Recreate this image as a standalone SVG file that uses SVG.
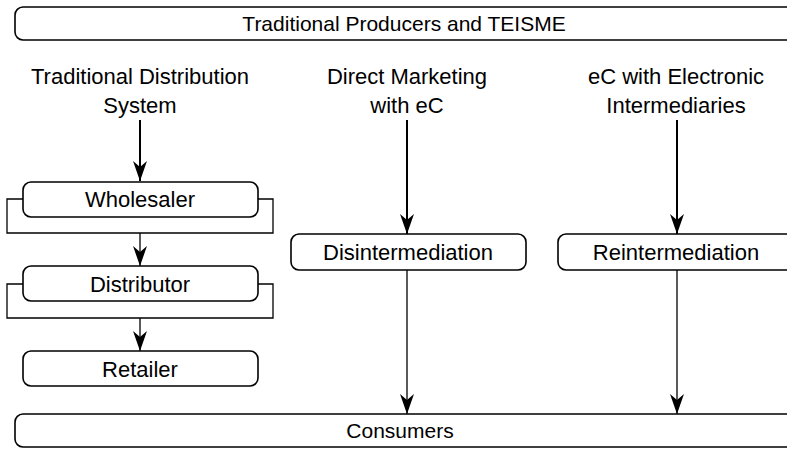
<svg xmlns="http://www.w3.org/2000/svg" width="787" height="449" viewBox="0 0 787 449">
  <style>
    .box { fill: #ffffff; stroke: #000000; stroke-width: 1.6; }
    .lbl { font-family: "Liberation Sans", Arial, sans-serif; font-size: 22px; fill: #000000; text-anchor: middle; }
    .wide { font-size: 21px; }
    .bracket { fill: none; stroke: #000000; stroke-width: 1.3; }
    .thick { fill: none; stroke: #000000; stroke-width: 2; marker-end: url(#head); }
    .thin { fill: none; stroke: #000000; stroke-width: 1.3; marker-end: url(#head); }
  </style>
  <defs>
    <marker id="head" markerUnits="userSpaceOnUse" viewBox="-21 -8 22 16" refX="0" refY="0" markerWidth="22" markerHeight="16" orient="auto">
      <path d="M0,0 L-20,-7 L-14,0 L-20,7 Z" fill="#000000"/>
    </marker>
  </defs>
  <rect width="787" height="449" fill="#ffffff"/>

  <g id="producers">
    <rect class="box" x="15" y="7" width="800" height="33" rx="8"/>
    <text class="lbl wide" x="404" y="31">Traditional Producers and TEISME</text>
  </g>

  <g id="header-traditional">
    <text class="lbl" x="140" y="84">Traditional Distribution</text>
    <text class="lbl" x="140" y="113">System</text>
  </g>
  <g id="header-direct">
    <text class="lbl" x="407" y="84">Direct Marketing</text>
    <text class="lbl" x="407" y="113">with eC</text>
  </g>
  <g id="header-electronic">
    <text class="lbl" x="676" y="84">eC with Electronic</text>
    <text class="lbl" x="676" y="113">Intermediaries</text>
  </g>

  <g id="connectors">
    <path class="thick" d="M140,120 L140,181"/>
    <path class="bracket" d="M23,199 H7 V233 H273 V199 H258"/>
    <path class="thin" d="M140,233 L140,266"/>
    <path class="bracket" d="M23,284 H7 V318 H273 V284 H258"/>
    <path class="thin" d="M140,318 L140,351"/>
    <path class="thick" d="M407,120 L407,234"/>
    <path class="thick" d="M677,120 L677,234"/>
    <path class="thin" d="M407,270 L407,414"/>
    <path class="thin" d="M677,270 L677,414"/>
  </g>

  <g id="wholesaler">
    <rect class="box" x="23" y="182" width="235" height="35" rx="8"/>
    <text class="lbl" x="140" y="207">Wholesaler</text>
  </g>
  <g id="distributor">
    <rect class="box" x="23" y="266" width="235" height="35" rx="8"/>
    <text class="lbl" x="140" y="292">Distributor</text>
  </g>
  <g id="retailer">
    <rect class="box" x="23" y="351" width="235" height="35" rx="8"/>
    <text class="lbl" x="140" y="377">Retailer</text>
  </g>
  <g id="disintermediation">
    <rect class="box" x="291" y="234" width="235" height="36" rx="8"/>
    <text class="lbl" x="408" y="260">Disintermediation</text>
  </g>
  <g id="reintermediation">
    <rect class="box" x="558" y="234" width="260" height="36" rx="8"/>
    <text class="lbl" x="676" y="260">Reintermediation</text>
  </g>
  <g id="consumers">
    <rect class="box" x="15" y="414" width="800" height="33" rx="8"/>
    <text class="lbl wide" x="400" y="438">Consumers</text>
  </g>
</svg>
